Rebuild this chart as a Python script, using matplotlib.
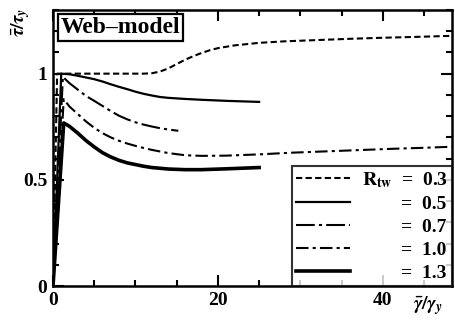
import matplotlib
matplotlib.use("Agg")
import matplotlib.pyplot as plt
from matplotlib.ticker import MultipleLocator

plt.rcParams['font.family'] = ['Liberation Serif', 'DejaVu Serif']
plt.rcParams['font.weight'] = 'bold'
plt.rcParams['mathtext.fontset'] = 'stix'

# Data
x_03 = [0, 0.5, 2, 5, 8, 11, 12, 13, 14, 15, 16, 17, 18, 19, 20, 22, 25, 28, 32, 36, 40, 44, 48.4]
y_03 = [0, 1.0, 1.0, 1.0, 1.0, 1.0, 1.002, 1.01, 1.025, 1.045, 1.065, 1.082, 1.097, 1.11, 1.12, 1.133, 1.145, 1.152, 1.158, 1.164, 1.169, 1.173, 1.178]

x_05 = [0, 1.0, 2, 3, 4, 5, 6, 7, 8, 9, 10, 11, 12, 13, 14, 16, 18, 21, 25]
y_05 = [0, 1.0, 0.997, 0.99, 0.982, 0.974, 0.963, 0.95, 0.938, 0.927, 0.915, 0.905, 0.897, 0.89, 0.886, 0.881, 0.877, 0.872, 0.867]

x_07 = [0, 1.2, 2, 3, 4, 5, 6, 7, 8, 9, 10, 11, 12, 13, 14, 15.2]
y_07 = [0, 0.985, 0.955, 0.925, 0.895, 0.872, 0.848, 0.824, 0.802, 0.785, 0.771, 0.76, 0.751, 0.743, 0.737, 0.731]

x_10 = [0, 1.3, 2, 3, 4, 5, 6, 7, 8, 9, 10, 11, 12, 14, 16, 18, 21, 25, 29, 33, 37, 41, 45, 48.4]
y_10 = [0, 0.88, 0.845, 0.81, 0.775, 0.745, 0.72, 0.7, 0.684, 0.671, 0.66, 0.65, 0.641, 0.626, 0.616, 0.613, 0.614, 0.62, 0.628, 0.634, 0.64, 0.646, 0.651, 0.656]

x_13 = [0, 1.3, 2, 3, 4, 5, 6, 7, 8, 9, 10, 11, 12, 14, 16, 18, 21, 25]
y_13 = [0, 0.768, 0.752, 0.72, 0.685, 0.655, 0.628, 0.608, 0.592, 0.58, 0.572, 0.564, 0.558, 0.551, 0.548, 0.548, 0.552, 0.558]

labels = ["0.3", "0.5", "0.7", "1.0", "1.3"]

fig = plt.figure(figsize=(4.55, 3.2), dpi=100)
ax = fig.add_axes([0.1165, 0.106, 0.877, 0.863])

ax.plot(x_03, y_03, color='black', lw=1.5, ls=(0, (3, 1.6)))
ax.plot(x_05, y_05, color='black', lw=1.6, ls='-')
ax.plot(x_07, y_07, color='black', lw=1.5, ls=(0, (9, 2, 1.5, 2)))
ax.plot(x_10, y_10, color='black', lw=1.5, ls=(0, (6, 2, 1.5, 2)))
ax.plot(x_13, y_13, color='black', lw=2.6, ls='-')

ax.set_xlim(0, 48.4)
ax.set_ylim(0, 1.3)
ax.xaxis.set_minor_locator(MultipleLocator(5))
ax.yaxis.set_minor_locator(MultipleLocator(0.1))
ax.set_xticks([0, 20, 40])
ax.set_xticklabels(['0', '20', '40'])
ax.set_yticks([0, 0.5, 1])
ax.set_yticklabels(['0', '0.5', '1'])
ax.tick_params(which='both', direction='in', top=True, right=True, width=1.5,
               labelsize=14, pad=4)
ax.tick_params(which='major', length=8)
ax.tick_params(which='minor', length=4)
for s in ax.spines.values():
    s.set_linewidth(1.8)

ax.text(0.02, 0.975, 'Web\u2013model', transform=ax.transAxes, ha='left', va='top',
        fontsize=17, fontweight='bold',
        bbox=dict(boxstyle='square,pad=0.12', fc='white', ec='black', lw=1.6))

fig.text(0.045, 0.975, r'$\bar{\tau}/\tau_y$', rotation=90, ha='center', va='top', fontsize=14)
fig.text(0.94, 0.045, r'$\bar{\gamma}/\gamma_y$', ha='center', va='center', fontsize=14)

leg_labels = [r'$\mathbf{R_{tw}}$  =  ' + labels[0]] + ['        =  ' + l for l in labels[1:]]
leg = ax.legend(ax.get_lines(), leg_labels, loc='lower right', borderaxespad=0,
                prop={'weight': 'bold', 'size': 14}, frameon=True, fancybox=False,
                handlelength=2.8, labelspacing=0.28, handletextpad=0.6,
                borderpad=0.2)
leg.get_frame().set_edgecolor('black')
leg.get_frame().set_linewidth(1.5)

fig.savefig('out.png', dpi=100)
